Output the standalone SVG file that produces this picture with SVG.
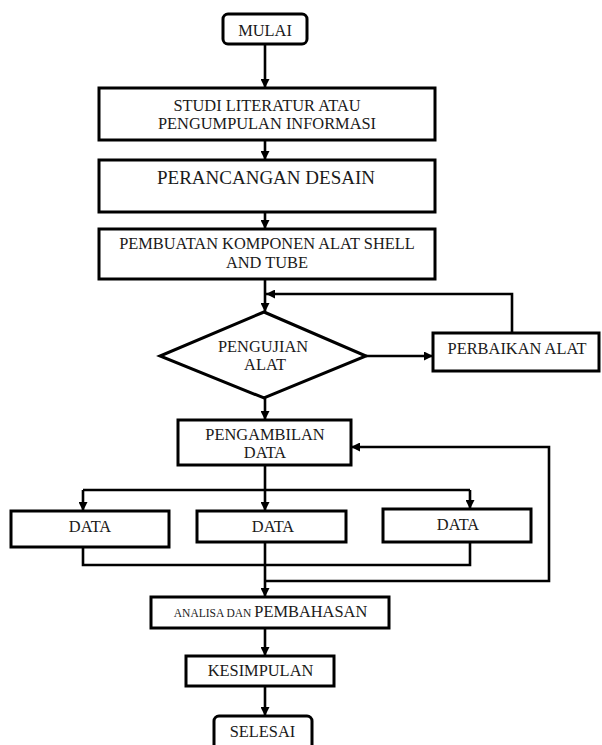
<svg xmlns="http://www.w3.org/2000/svg" width="602" height="745" viewBox="0 0 602 745">
<style>
.box{fill:#fff;stroke:#000;stroke-width:3}
.ln{fill:none;stroke:#000;stroke-width:2.6}
.ar{marker-end:url(#ah)}
.t{font-family:'Liberation Serif','Times New Roman','DejaVu Serif',serif;font-size:16.4px;fill:#1a1a1a;text-anchor:middle}
</style>
<defs>
<marker id="ah" viewBox="0 0 10 10" refX="10" refY="5" markerWidth="9" markerHeight="9" markerUnits="userSpaceOnUse" orient="auto">
<path d="M0,0 L10,5 L0,10 z" fill="#000"/>
</marker>
</defs>
<rect width="602" height="745" fill="#fff"/>
<g id="connectors">
<path class="ln ar" d="M265,44 V88"/>
<path class="ln ar" d="M265,140 V160"/>
<path class="ln ar" d="M265,212 V229"/>
<path class="ln ar" d="M265,279 V312"/>
<path class="ln ar" d="M512,333 V294 H266"/>
<path class="ln ar" d="M366,356 H433"/>
<path class="ln ar" d="M265,398 V420"/>
<path class="ln ar" d="M265,465 V511"/>
<path class="ln" d="M83,490 H470"/>
<path class="ln ar" d="M83,490 V511"/>
<path class="ln ar" d="M470,490 V509"/>
<path class="ln" d="M83,547 V565 H470 V542"/>
<path class="ln ar" d="M265,542 V597"/>
<path class="ln ar" d="M265,581 H549 V447 H351"/>
<path class="ln ar" d="M265,628 V656"/>
<path class="ln ar" d="M265,686 V716"/>
</g>
<g class="t" font-family="Liberation Serif, serif">
<g id="mulai">
<rect class="box" x="223" y="14" width="84" height="30" rx="5"/>
<text x="265" y="36">MULAI</text>
</g>
<g id="studi">
<rect class="box" x="99" y="88" width="336" height="52"/>
<text x="267" y="110.5">STUDI LITERATUR ATAU</text>
<text x="267" y="128.5">PENGUMPULAN INFORMASI</text>
</g>
<g id="perancangan">
<rect class="box" x="99" y="160" width="336" height="52"/>
<text x="266" y="183.5" style="font-size:19px">PERANCANGAN DESAIN</text>
</g>
<g id="pembuatan">
<rect class="box" x="99" y="229" width="336" height="50"/>
<text x="267" y="248.6">PEMBUATAN KOMPONEN ALAT SHELL</text>
<text x="267" y="268">AND TUBE</text>
</g>
<g id="pengujian">
<polygon class="box" points="264,312 366,356 264,398 160,356"/>
<text x="263" y="351.5">PENGUJIAN</text>
<text x="265" y="370">ALAT</text>
</g>
<g id="perbaikan">
<rect class="box" x="433" y="333" width="166" height="38"/>
<text x="517" y="353.6">PERBAIKAN ALAT</text>
</g>
<g id="pengambilan">
<rect class="box" x="178" y="420" width="173" height="45"/>
<text x="265" y="440">PENGAMBILAN</text>
<text x="265" y="457.5">DATA</text>
</g>
<g id="data1">
<rect class="box" x="11" y="511" width="158" height="36"/>
<text x="90" y="532">DATA</text>
</g>
<g id="data2">
<rect class="box" x="197" y="511" width="149" height="31"/>
<text x="273" y="532">DATA</text>
</g>
<g id="data3">
<rect class="box" x="383" y="509" width="148" height="33"/>
<text x="458" y="530.3">DATA</text>
</g>
<g id="analisa">
<rect class="box" x="151" y="597" width="238" height="31"/>
<text x="270.5" y="616.6"><tspan style="font-size:11.5px">ANALISA DAN </tspan>PEMBAHASAN</text>
</g>
<g id="kesimpulan">
<rect class="box" x="186" y="656" width="148" height="30"/>
<text x="260.5" y="676">KESIMPULAN</text>
</g>
<g id="selesai">
<rect class="box" x="214" y="716" width="98" height="40" rx="5"/>
<text x="262.5" y="737">SELESAI</text>
</g>
</g>
</svg>
